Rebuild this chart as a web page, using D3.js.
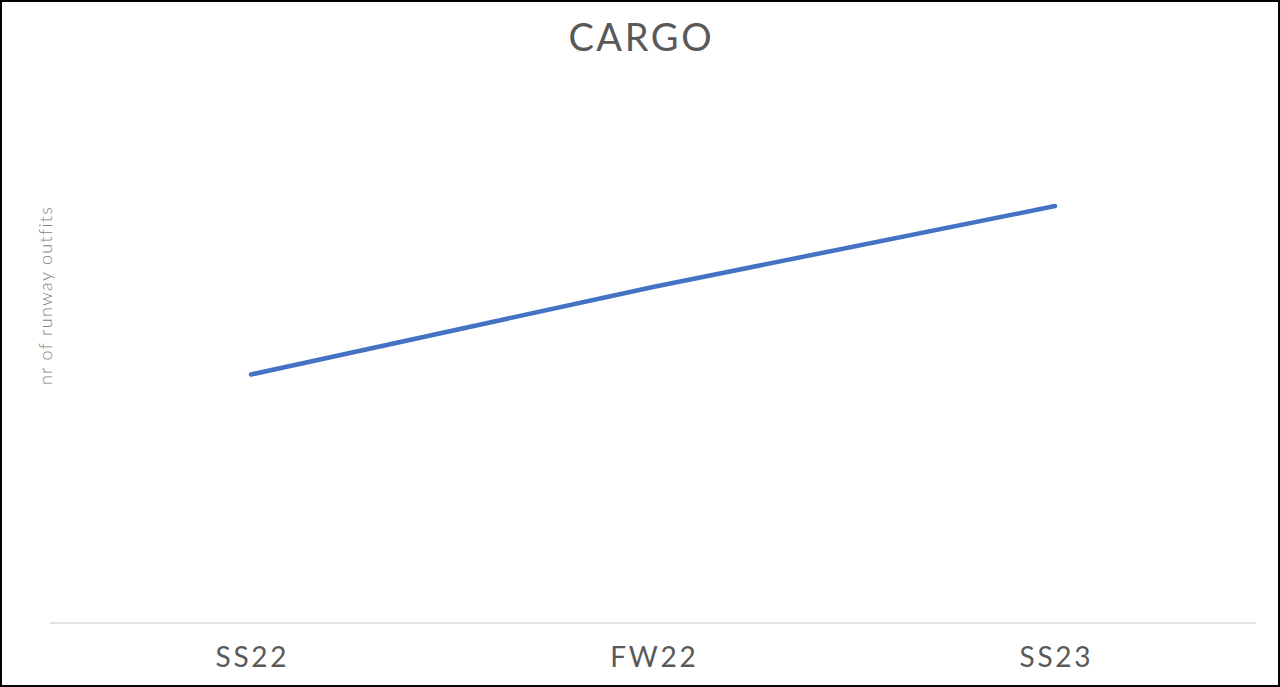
<!DOCTYPE html>
<html>
<head>
<meta charset="utf-8">
<script src="https://cdn.jsdelivr.net/npm/d3@7"></script>
<style>
  html, body { margin: 0; padding: 0; background: #fff; }
  svg { display: block; }
</style>
</head>
<body>
<svg id="chart" width="1280" height="687"></svg>
<script>
const categories = ["SS22", "FW22", "SS23"];
const values = [2.98, 4.03, 5];
const titleText = "CARGO";
const yAxisLabel = "nr of runway outfits";

(function () {
const W = 1280, H = 687;
const svg = d3.select("#chart");
const font = "Lato, 'Open Sans', sans-serif";

svg.append("rect").attr("x", 1).attr("y", 1).attr("width", W - 2).attr("height", H - 2)
  .attr("fill", "#fff").attr("stroke", "#000").attr("stroke-width", 2);

const mLeft = 50, mRight = 1256, mBottom = 623, mTop = 81;

const x = d3.scaleBand().domain(categories).range([mLeft, mRight]);
const y = d3.scaleLinear().domain([0, 6.5]).range([mBottom, mTop]);

// baseline
svg.append("line").attr("x1", mLeft).attr("x2", mRight).attr("y1", mBottom).attr("y2", mBottom)
  .attr("stroke", "#d9d9d9").attr("stroke-width", 1.5);

// x labels
svg.append("g").selectAll("text").data(categories).join("text")
  .attr("x", d => x(d) + x.bandwidth() / 2 + 1.4)
  .attr("y", 667)
  .attr("text-anchor", "middle")
  .attr("font-family", font)
  .attr("font-size", 28)
  .attr("letter-spacing", 2.75)
  .attr("fill", "#595959")
  .text(d => d);

// line
const line = d3.line()
  .x((d, i) => x(categories[i]) + x.bandwidth() / 2)
  .y(d => y(d));
svg.append("path").datum(values)
  .attr("d", line)
  .attr("fill", "none")
  .attr("stroke", "#4472c4")
  .attr("stroke-width", 4.5)
  .attr("stroke-linecap", "round")
  .attr("stroke-linejoin", "round");

// title
svg.append("text").attr("x", 641.3).attr("y", 51)
  .attr("text-anchor", "middle")
  .attr("font-family", font)
  .attr("font-size", 38)
  .attr("letter-spacing", 2.6)
  .attr("fill", "#595959")
  .text(titleText);

// y label
svg.append("text")
  .attr("transform", "translate(52,295.5) rotate(-90)")
  .attr("text-anchor", "middle")
  .attr("font-family", font)
  .attr("font-weight", 300)
  .attr("font-size", 18)
  .attr("letter-spacing", 1.3)
  .attr("fill", "#7f7f7f")
  .text(yAxisLabel);
})();
</script>
</body>
</html>
